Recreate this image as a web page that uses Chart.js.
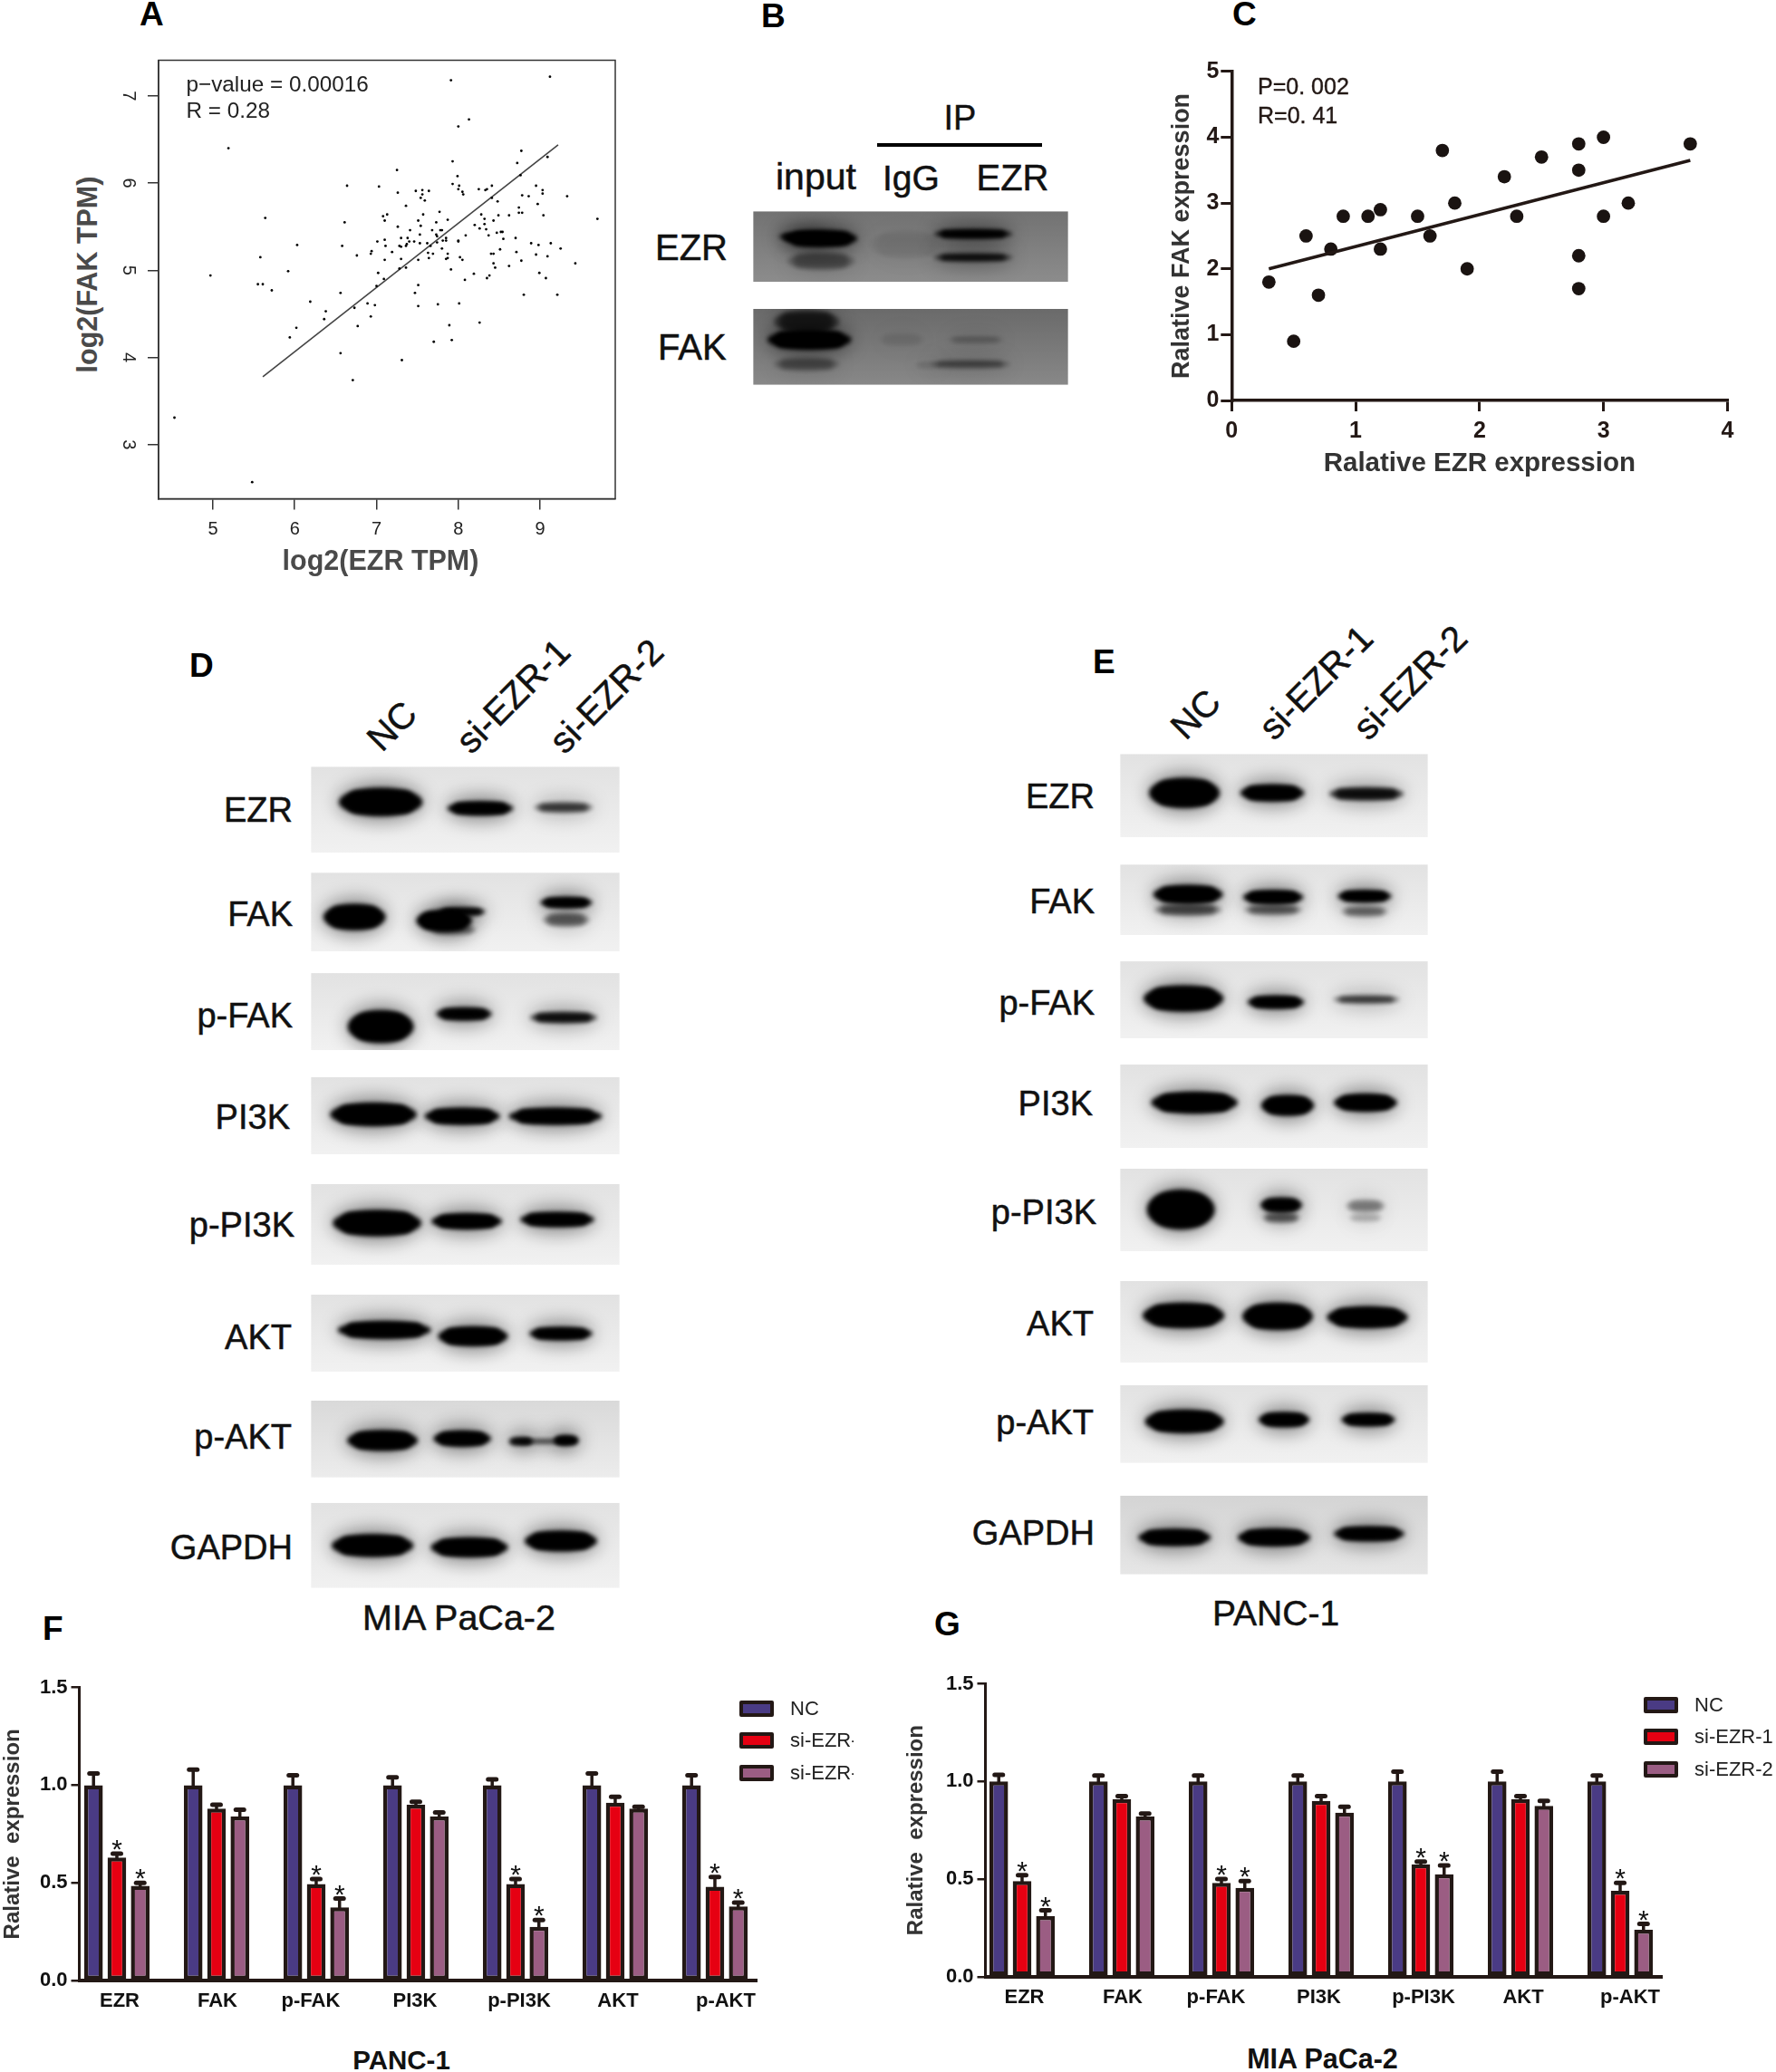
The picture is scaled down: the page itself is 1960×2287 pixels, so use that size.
<!DOCTYPE html>
<html lang="en">
<head>
<meta charset="UTF-8">
<title>EZR FAK figure</title>
<script src="https://cdn.jsdelivr.net/npm/chart.js"></script>
<style>
  html, body { margin: 0; background: #fff; }
  #page { position: relative; width: 1960px; height: 2287px; overflow: hidden; font-family: "Liberation Sans", Arial, sans-serif; }
  #page canvas { position: absolute; }
  .txt { position: absolute; white-space: nowrap; line-height: 1; color: #111; }
  .swatch { position: absolute; box-sizing: border-box; width: 38px; height: 18px; border: 4px solid #231815; border-radius: 2px; }
</style>
</head>
<body>
<div id="page"></div>
<script>
// panel A, TCGA scatter
const tcgaEzr = [4.53,5.48,4.97,5.19,5.64,5.58,5.55,5.61,5.72,5.92,6.03,5.94,6.02,6.19,6.38,6.36,6.56,6.56,6.71,6.73,
  6.77,6.89,6.98,6.93,7.31,7.70,7.92,7.89,8.26,7.75,7.51,7.47,7.51,8.01,8.80,9.21,9.07,8.99,9.43,9.25,
  9.13,9.09,8.98,8.95,8.89,8.77,8.71,8.70,8.62,8.51,8.45,8.43,8.43,8.40,8.38,8.35,8.19,8.08,8.05,8.02,
  7.91,7.87,7.85,7.91,9.12,8.13,8.00,8.77,7.93,8.72,9.09,7.25,7.99,8.76,6.64,7.03,7.93,8.01,8.00,8.05,
  8.06,8.25,8.33,8.35,8.41,8.95,9.03,9.03,9.33,8.78,8.86,8.41,8.48,8.97,7.26,7.48,7.56,7.56,7.64,7.54,
  7.59,7.36,8.74,8.74,8.78,9.04,8.28,8.62,8.49,7.77,7.57,7.08,7.13,7.10,6.61,7.51,7.87,7.73,8.32,8.43,
  9.70,8.20,8.32,8.26,8.34,7.26,7.54,7.41,7.68,7.78,7.80,8.09,8.47,8.52,8.54,7.53,7.73,7.74,8.37,8.55,
  7.10,7.01,7.30,7.38,7.85,7.85,7.81,8.00,8.00,7.74,7.62,7.53,7.40,7.46,7.37,6.58,7.11,7.28,7.30,7.36,
  7.66,7.80,6.94,6.93,7.19,7.63,7.69,7.87,6.76,7.64,7.51,7.30,7.10,7.36,7.28,7.02,7.09,7.00];
const tcgaFak = [3.31,2.57,4.94,6.40,5.60,5.15,4.84,4.84,4.77,4.99,5.29,4.23,4.34,4.64,4.53,4.44,4.74,4.05,3.74,4.57,
  4.36,4.62,4.60,4.47,3.97,4.18,4.20,4.37,4.40,4.61,4.59,4.74,4.83,4.62,4.72,4.72,4.91,4.97,5.08,5.25,
  5.31,5.16,5.29,5.18,5.31,5.11,5.21,5.37,5.05,5.24,5.03,5.08,5.19,5.19,4.94,4.91,4.96,4.89,5.12,5.15,
  5.01,5.14,5.13,7.18,7.22,6.73,6.65,6.37,6.25,6.23,6.30,6.15,6.08,6.09,5.97,5.96,5.99,5.97,5.93,5.90,
  5.87,5.93,5.92,5.93,5.97,5.97,5.92,5.88,5.85,5.86,5.85,5.83,5.79,5.76,5.89,5.91,5.92,5.87,5.91,5.83,
  5.80,5.74,5.72,5.66,5.66,5.63,5.64,5.63,5.63,5.67,5.64,5.62,5.64,5.57,5.55,5.57,5.58,5.55,5.59,5.57,
  5.59,5.52,5.53,5.48,5.47,5.50,5.51,5.46,5.46,5.46,5.46,5.40,5.43,5.44,5.44,5.41,5.41,5.39,5.40,5.36,
  5.35,5.33,5.37,5.37,5.37,5.34,5.34,5.34,5.33,5.32,5.31,5.31,5.33,5.33,5.30,5.28,5.28,5.28,5.27,5.28,
  5.28,5.25,5.22,5.19,5.21,5.20,5.19,5.19,5.17,5.14,5.12,5.13,5.12,5.03,5.02,4.97,4.90,4.82];
const tcgaFitX = [5.61, 9.22];
const tcgaFitY = [3.78, 6.44];

// panel C, own cohort scatter
const cohortEzr = [0.3,0.5,0.6,0.7,0.8,0.9,1.1,1.2,1.2,1.5,1.6,1.7,1.8,1.9,2.2,2.3,2.5,2.8,2.8,2.8,2.8,3.0,3.0,3.2,3.7];
const cohortFak = [1.8,0.9,2.5,1.6,2.3,2.8,2.8,2.9,2.3,2.8,2.5,3.8,3.0,2.0,3.4,2.8,3.7,3.9,3.5,2.2,1.7,4.0,2.8,3.0,3.9];
const cohortFitX = [0.3, 3.7];
const cohortFitY = [2.0, 3.65];

// panels F and G, bar values and top of the error bars
const proteins = ['EZR','FAK','p-FAK','PI3K','p-PI3K','AKT','p-AKT'];
const groups = ['NC','si-EZR-1','si-EZR-2'];
const panelF_NC = [1,1,1,1,1,1,1];
const panelF_si1 = [0.63,0.88,0.495,0.90,0.495,0.91,0.48];
const panelF_si2 = [0.485,0.84,0.375,0.84,0.275,0.88,0.38];
const panelF_errNC = [1.06,1.08,1.05,1.04,1.03,1.06,1.05];
const panelF_errSi1 = [0.65,0.90,0.52,0.915,0.52,0.94,0.53];
const panelF_errSi2 = [0.50,0.875,0.42,0.86,0.31,0.89,0.40];
const panelG_NC = [1,1,1,1,1,1,1];
const panelG_si1 = [0.49,0.91,0.48,0.90,0.575,0.91,0.44];
const panelG_si2 = [0.31,0.82,0.455,0.84,0.525,0.875,0.24];
const panelG_errNC = [1.034,1.03,1.03,1.03,1.05,1.05,1.03];
const panelG_errSi1 = [0.52,0.925,0.50,0.925,0.59,0.925,0.48];
const panelG_errSi2 = [0.34,0.835,0.49,0.87,0.57,0.90,0.27];
const starred = [1,0,1,0,1,0,1];

// western blots: band darkness per row, one list per lane
const blotRows = ['EZR','FAK','p-FAK','PI3K','p-PI3K','AKT','p-AKT','GAPDH'];
const blotD_NC = [1,1,1,1,1,1,1,1];
const blotD_si1 = [1,1,0.95,1,1,1,1,1];
const blotD_si2 = [0.5,1,0.75,1,1,1,0.5,1];
const blotE_NC = [1,1,1,1,1,1,1,1];
const blotE_si1 = [1,1,1,1,0.95,1,1,1];
const blotE_si2 = [0.75,1,0.5,1,0.25,1,1,1];

// ---- layout tables (page pixels) ----
const boxesD = [
  [[420,885,90,29],[530,892,71,14],[622,891,63,10]],
  [[391,1012,67,27],[490,1016,60,22],[625,996,56,11]],
  [[420,1133,71,34],[512,1119,60,13],[622,1123,72,11]],
  [[412,1230,93,24],[510,1232,81,17],[613,1232,100,17]],
  [[416,1350,95,27],[515,1348,76,16],[615,1346,80,15]],
  [[424,1468,100,18],[522,1475,75,20],[619,1472,68,13]],
  [[422,1590,76,21],[510,1588,62,16],[600,1591,60,4]],
  [[411,1706,88,23],[518,1708,83,20],[619,1701,78,21]]
];
const framesD = [[846,941],[963,1050],[1074,1159],[1189,1274],[1307,1396],[1429,1514],[1546,1631],[1659,1753]];
const extrasD = {1: [[625,1015,50,14,0.35],[510,1006,50,8,0.9],[500,1026,50,10,0.3]], 6: [[575,1591,26,8,0.85],[625,1590,27,10,1]]};
const shadesD = {6: ['#d9d9d9', '#ececec']};
const boxesE = [
  [[1307,875,76,31],[1404,875,69,17],[1508,876,80,13]],
  [[1311,987,75,19],[1405,990,65,14],[1506,989,58,12]],
  [[1306,1102,86,27],[1408,1106,61,13],[1508,1103,71,8]],
  [[1318,1217,93,22],[1421,1220,57,21],[1507,1217,68,18]],
  [[1303,1335,73,41],[1414,1330,45,15],[1507,1331,42,13]],
  [[1306,1452,88,26],[1410,1453,76,28],[1509,1454,87,22]],
  [[1307,1569,85,24],[1417,1567,55,15],[1510,1567,58,13]],
  [[1296,1697,78,17],[1406,1697,78,18],[1511,1693,76,15]]
];
const framesE = [[832,924],[954,1032],[1061,1146],[1175,1267],[1290,1381],[1414,1504],[1529,1615],[1651,1738]];
const extrasE = {1: [[1311,1004,72,12,0.4],[1405,1004,62,10,0.35],[1506,1006,50,10,0.3]], 4: [[1414,1344,40,10,0.35],[1507,1344,36,9,0.12]]};
const shadesE = {7: ['#d4d4d4', '#e6e6e6']};

const page = document.getElementById('page');
const inkDark = '#231815';
Chart.defaults.font.family = '"Liberation Sans", Arial, sans-serif';
Chart.defaults.animation = false;
Chart.defaults.responsive = false;
Chart.defaults.plugins.legend.display = false;
Chart.defaults.plugins.tooltip.enabled = false;

function addCanvas(left, top, w, h) {
  const c = document.createElement('canvas');
  c.width = w; c.height = h;
  c.style.left = left + 'px'; c.style.top = top + 'px';
  page.appendChild(c);
  return c;
}

function text(str, x, base, size, o = {}) {
  const d = document.createElement('div');
  d.className = 'txt';
  d.textContent = str;
  d.style.fontSize = size + 'px';
  d.style.fontWeight = o.weight || 'normal';
  if (o.color) d.style.color = o.color;
  if (o.heavy) d.style.webkitTextStroke = o.heavy + 'px currentColor';
  d.style.top = (base - 0.8465 * size) + 'px';
  if (o.align === 'right') { d.style.right = (1960 - x) + 'px'; }
  else if (o.align === 'center') { d.style.left = x + 'px'; d.style.transform = 'translateX(-50%)'; }
  else { d.style.left = x + 'px'; }
  if (o.rotate !== undefined) {
    d.style.top = base + 'px';
    d.style.left = x + 'px';
    d.style.transform = 'translate(-50%,-50%) rotate(' + o.rotate + 'deg)';
  }
  if (o.clip) { d.style.width = o.clip + 'px'; d.style.overflow = 'hidden'; d.style.lineHeight = '1.2'; d.style.top = (base - 0.95 * size) + 'px'; }
  page.appendChild(d);
}

// keeps the plot box where it is in the figure
function pinY(w) { return s => { s.width = w; s.paddingTop = 0; s.paddingBottom = 0; s.paddingLeft = 0; s.paddingRight = 0; }; }
function pinX(h) { return s => { s.height = h; s.paddingTop = 0; s.paddingBottom = 0; s.paddingLeft = 0; s.paddingRight = 0; }; }

// ---- panel A ----
const framePlugin = {
  id: 'frame',
  afterDraw(chart) {
    const { ctx, chartArea: a } = chart;
    ctx.save(); ctx.strokeStyle = '#333'; ctx.lineWidth = 1.5;
    ctx.strokeRect(a.left, a.top, a.right - a.left, a.bottom - a.top);
    ctx.restore();
  }
};
new Chart(addCanvas(120, 50, 590, 560), {
  type: 'scatter',
  data: { datasets: [
    { data: tcgaEzr.map((x, i) => ({ x, y: tcgaFak[i] })), pointRadius: 1.4, pointBackgroundColor: '#000', pointBorderWidth: 0 },
    { data: tcgaFitX.map((x, i) => ({ x, y: tcgaFitY[i] })), showLine: true, borderColor: '#444', borderWidth: 1.6, pointRadius: 0 }
  ] },
  options: {
    layout: { padding: { top: 16.5, right: 31, left: 0, bottom: 0 } },
    scales: {
      x: { type: 'linear', min: 4.336, max: 9.918, afterFit: pinX(59.5),
        grid: { drawOnChartArea: false, tickLength: 12, color: '#333', lineWidth: 1.5 }, border: { color: '#333', width: 1.5 },
        ticks: { stepSize: 1, includeBounds: false, maxRotation: 0, padding: 10, color: '#222', font: { size: 20 } } },
      y: { type: 'linear', min: 2.38, max: 7.409, afterFit: pinY(55),
        grid: { drawOnChartArea: false, tickLength: 12, color: '#333', lineWidth: 1.5 }, border: { color: '#333', width: 1.5 },
        ticks: { stepSize: 1, includeBounds: false, minRotation: -90, maxRotation: -90, crossAlign: 'center', padding: 16, color: '#222', font: { size: 20 } } }
    }
  },
  plugins: [framePlugin]
});
text('log2(EZR TPM)', 420, 629, 30.5, { weight: 'bold', align: 'center', color: '#4a4a4a' });
text('log2(FAK TPM)', 96, 303, 30.5, { weight: 'bold', rotate: -90, color: '#4a4a4a' });
text('p\u2212value = 0.00016', 205.5, 101.5, 24.3, { color: '#222' });
text('R = 0.28', 205.5, 130.5, 24.3, { color: '#222' });

// ---- panel C ----
new Chart(addCanvas(1280, 60, 650, 470), {
  type: 'scatter',
  data: { datasets: [
    { data: cohortFitX.map((x, i) => ({ x, y: cohortFitY[i] })), showLine: true, borderColor: inkDark, borderWidth: 3.5, pointRadius: 0 },
    { data: cohortEzr.map((x, i) => ({ x, y: cohortFak[i] })), pointRadius: 7.4, pointBackgroundColor: '#1a1311', pointBorderWidth: 0 }
  ] },
  options: {
    layout: { padding: { top: 18.9, right: 23.6, left: 0, bottom: 0 } },
    scales: {
      x: { type: 'linear', min: 0, max: 4, afterFit: pinX(88),
        title: { display: true, text: 'Ralative EZR expression', color: '#333', padding: 0, font: { size: 29.5, weight: 'bold' } },
        grid: { drawOnChartArea: false, tickLength: 12, color: inkDark, lineWidth: 3 }, border: { color: inkDark, width: 3.5 },
        ticks: { stepSize: 1, maxRotation: 0, padding: 7, color: inkDark, font: { size: 25, weight: 'bold' } } },
      y: { type: 'linear', min: 0, max: 5, afterFit: pinY(79.3),
        title: { display: true, text: 'Ralative FAK expression', color: '#333', padding: { top: 8, bottom: 0 }, font: { size: 27, weight: 'bold' } },
        grid: { drawOnChartArea: false, tickLength: 12, color: inkDark, lineWidth: 3 }, border: { color: inkDark, width: 3.5 },
        ticks: { stepSize: 1, padding: 2, color: inkDark, font: { size: 25, weight: 'bold' } } }
    }
  }
});
text('P=0. 002', 1388, 104, 25, { color: inkDark, heavy: 0.4 });
text('R=0. 41', 1388, 136, 25, { color: inkDark, heavy: 0.4 });

// ---- panels F, G ----
const errorPlugin = {
  id: 'errorBars',
  afterDatasetsDraw(chart) {
    const { ctx, scales } = chart;
    chart.data.datasets.forEach((ds, k) => {
      chart.getDatasetMeta(k).data.forEach((bar, i) => {
        const top = scales.y.getPixelForValue(ds.errTop[i]);
        ctx.save();
        ctx.strokeStyle = inkDark; ctx.lineCap = 'round';
        ctx.lineWidth = 3.5; ctx.beginPath(); ctx.moveTo(bar.x, bar.y); ctx.lineTo(bar.x, top); ctx.stroke();
        ctx.lineWidth = 5; ctx.beginPath(); ctx.moveTo(bar.x - 4.5, top); ctx.lineTo(bar.x + 4.5, top); ctx.stroke();
        if (k > 0 && starred[i]) {
          ctx.fillStyle = '#111'; ctx.textAlign = 'center'; ctx.textBaseline = 'alphabetic';
          ctx.font = '30px "Liberation Sans", Arial, sans-serif';
          ctx.fillText('*', bar.x, top + 5);
        }
        ctx.restore();
      });
    });
  }
};
const barColors = ['#4a3b84', '#e60012', '#9b5d83'];

function barChart(cv, cfg) {
  const mk = (vals, err, i) => ({
    label: groups[i], data: vals.map((y, x) => ({ x, y })), errTop: err,
    backgroundColor: barColors[i], borderColor: inkDark, borderWidth: 4.5, borderSkipped: false,
    categoryPercentage: 0.75, barPercentage: 0.8
  });
  return new Chart(cv, {
    type: 'bar',
    data: { datasets: cfg.series.map((s, i) => mk(s[0], s[1], i)) },
    options: {
      layout: { padding: cfg.padding },
      scales: {
        x: { type: 'linear', offset: false, min: cfg.xMin, max: cfg.xMax, afterFit: pinX(cfg.xH),
          afterBuildTicks: s => { s.ticks = proteins.map((p, i) => ({ value: i + cfg.nudge[i] / 110 })); },
          grid: { display: false, offset: false }, border: { color: inkDark, width: 4 },
          ticks: { autoSkip: false, maxRotation: 0, padding: 2, color: '#111', font: { size: 22, weight: 'bold' },
            callback: v => proteins[Math.round(v)] } },
        y: { min: 0, max: 1.5, afterFit: pinY(cfg.yW),
          title: { display: true, text: 'Ralative  expression', color: '#333', padding: 0, font: { size: 24, weight: 'bold' } },
          grid: { drawOnChartArea: false, tickLength: 9, color: inkDark, lineWidth: 2.5 }, border: { color: inkDark, width: 3 },
          ticks: { stepSize: 0.5, padding: 4, color: '#111', font: { size: 22, weight: 'bold' }, callback: v => v.toFixed(1) } }
      }
    },
    plugins: [errorPlugin]
  });
}
barChart(addCanvas(0, 1850, 860, 400), {
  series: [[panelF_NC, panelF_errNC], [panelF_si1, panelF_errSi1], [panelF_si2, panelF_errSi2]],
  padding: { top: 12.5, right: 24.4, left: 0, bottom: 0 }, xMin: -0.377, xMax: 6.424, xH: 63.8, yW: 87.5,
  nudge: [3, 1, -6, -1, 4, 3, 12]
});
barChart(addCanvas(997, 1846, 860, 400), {
  series: [[panelG_NC, panelG_errNC], [panelG_si1, panelG_errSi1], [panelG_si2, panelG_errSi2]],
  padding: { top: 12.5, right: 23, left: 0, bottom: 0 }, xMin: -0.368, xMax: 6.418, xH: 64.2, yW: 90.5,
  nudge: [2.5, 1, -6, -2.5, 3, 3, 11]
});

function legendBlock(x, y, clip) {
  groups.forEach((g, i) => {
    const s = document.createElement('div');
    s.className = 'swatch';
    s.style.left = x + 'px'; s.style.top = (y + i * 35.6) + 'px';
    s.style.background = barColors[i];
    page.appendChild(s);
    text(g, x + 56, y + 17 + i * 35.6, 22, { color: '#222', clip: i > 0 ? clip : undefined });
  });
}
legendBlock(816, 1876.5, 70);
legendBlock(1814, 1872.5);

// ---- blots ----
function bandSprite(w, h, dark) {
  const pad = 40, c = document.createElement('canvas');
  c.width = w + 2 * pad; c.height = h + 2 * pad;
  const g = c.getContext('2d'), cx = c.width / 2, cy = c.height / 2;
  g.filter = 'blur(10px)';
  g.fillStyle = 'rgba(0,0,0,' + (0.42 * dark) + ')';
  g.beginPath(); g.ellipse(cx, cy, w / 2 + 2, h / 2 + 7, 0, 0, 7); g.fill();
  g.filter = 'blur(2.5px)';
  g.fillStyle = 'rgba(0,0,0,' + dark + ')';
  g.beginPath(); g.ellipse(cx, cy, w / 2 * 1.03, h / 2 * 1.08, 0, 0, 7); g.fill();
  g.beginPath(); g.roundRect(cx - w * 0.42, cy - h * 0.42, w * 0.84, h * 0.84, h * 0.4); g.fill();
  return c;
}
const gelPlugin = {
  id: 'gel',
  beforeDatasetDraw(chart, args) {
    const ds = chart.data.datasets[args.index], { ctx, scales } = chart;
    const x0 = scales.x.getPixelForValue(ds.panel[0]), x1 = scales.x.getPixelForValue(ds.panel[2]);
    const y0 = scales.y.getPixelForValue(ds.panel[1]), y1 = scales.y.getPixelForValue(ds.panel[3]);
    ctx.save();
    ctx.beginPath(); ctx.rect(x0, y0, x1 - x0, y1 - y0); ctx.clip();
    const fill = ctx.createLinearGradient(0, y0, 0, y1);
    fill.addColorStop(0, ds.shade[0]); fill.addColorStop(1, ds.shade[1]);
    ctx.fillStyle = fill;
    ctx.fillRect(x0, y0, x1 - x0, y1 - y0);
  },
  afterDatasetDraw(chart) { chart.ctx.restore(); }
};
function gelChart(left, top, w, h, rows) {
  return new Chart(addCanvas(left, top, w, h), {
    type: 'scatter',
    data: { datasets: rows.map(r => ({
      panel: r.panel, shade: r.shade,
      data: r.bands.map(b => ({ x: b[0], y: b[1] })),
      pointStyle: r.bands.map(b => bandSprite(b[2], b[3], b[4])),
      pointRadius: 0.2, pointHoverRadius: 0, pointBorderWidth: 0, pointHoverBorderWidth: 0, borderWidth: 0, clip: false
    })) },
    options: {
      layout: { padding: 0 },
      scales: {
        x: { type: 'linear', display: false, min: left, max: left + w },
        y: { type: 'linear', display: false, reverse: true, min: top, max: top + h }
      }
    },
    plugins: [gelPlugin]
  });
}
function blotPanel(left, width, frames, boxes, extras, lanes, shades) {
  const top = frames[0][0], bottom = frames[frames.length - 1][1];
  gelChart(left, top, width, bottom - top, frames.map((f, r) => ({
    panel: [left, f[0], left + width, f[1]], shade: shades[r] || ['#e2e2e2', '#f1f1f1'],
    bands: boxes[r].map((b, l) => [b[0], b[1], b[2], b[3], lanes[l][r]]).concat(extras[r] || [])
  })));
}
blotPanel(343, 341, framesD, boxesD, extrasD, [blotD_NC, blotD_si1, blotD_si2], shadesD);
blotPanel(1236, 340, framesE, boxesE, extrasE, [blotE_NC, blotE_si1, blotE_si2], shadesE);

// co-IP, panel B
const ipRows = ['EZR', 'FAK'];
const ipLanes = ['input', 'IgG', 'EZR'];
gelChart(831, 233, 348, 192, [
  { panel: [831, 233, 1179, 311], shade: ['#727272', '#8c8c8c'],
    bands: [[906,263,78,17,1],[885,261,50,7,0.9],[906,288,72,18,0.26],[1074,258,84,9,0.95],[1074,284,84,7,0.75],[1000,270,80,30,0.05]] },
  { panel: [831, 341, 1179, 425], shade: ['#6a6a6a', '#888888'],
    bands: [[893,375,90,20,1],[890,355,70,24,0.5],[890,402,70,13,0.25],[1077,375,60,7,0.14],[1071,402,85,8,0.3],[995,375,50,14,0.05],[1025,403,30,8,0.07]] }
]);
text('IP', 1059.5, 143, 38, { align: 'center', heavy: 0.4 });
const ipRule = document.createElement('div');
ipRule.style.cssText = 'position:absolute;left:968px;top:158px;width:182px;height:4px;background:#000';
page.appendChild(ipRule);
text(ipLanes[0], 856, 210, 41, { heavy: 0.5 });
text(ipLanes[1], 974, 210, 39, { heavy: 0.5 });
text(ipLanes[2], 1077.5, 210, 40, { heavy: 0.5 });
text(ipRows[0], 723, 287, 40, { heavy: 0.5 });
text(ipRows[1], 726, 397, 40, { heavy: 0.5 });

// row and lane labels of the blots
const rowRightD = [323,323,323,320,325,322,322,323];
const rowBaseD = [907,1022,1134,1246,1365,1489,1599,1721];
const rowRightE = [1208,1208,1208,1206,1210,1207,1207,1208];
const rowBaseE = [892,1008,1120,1231,1351,1474,1583,1705];
blotRows.forEach((r, i) => {
  text(r, rowRightD[i], rowBaseD[i], 38, { align: 'right', heavy: 0.5 });
  text(r, rowRightE[i], rowBaseE[i], 38, { align: 'right', heavy: 0.5 });
});
[[432,801],[566,768],[669,768]].forEach((p, i) => text(groups[i], p[0], p[1], 40, { rotate: -45, heavy: 0.5 }));
[[1319,788],[1452,753],[1556,753]].forEach((p, i) => text(groups[i], p[0], p[1], 40, { rotate: -45, heavy: 0.5 }));

// captions and panel letters
text('MIA PaCa-2', 506.5, 1799, 39.5, { align: 'center', heavy: 0.5 });
text('PANC-1', 1408, 1794, 39, { align: 'center', heavy: 0.5 });
text('PANC-1', 443, 2284, 29.5, { weight: 'bold', align: 'center' });
text('MIA PaCa-2', 1459.5, 2283, 30.5, { weight: 'bold', align: 'center' });
[['A',154,28],['B',840,30],['C',1360,28],['D',209,747],['E',1206,743],['F',47,1810],['G',1031,1805]]
  .forEach(l => text(l[0], l[1], l[2], 37, { weight: 'bold', color: '#000' }));
</script>
</body>
</html>
